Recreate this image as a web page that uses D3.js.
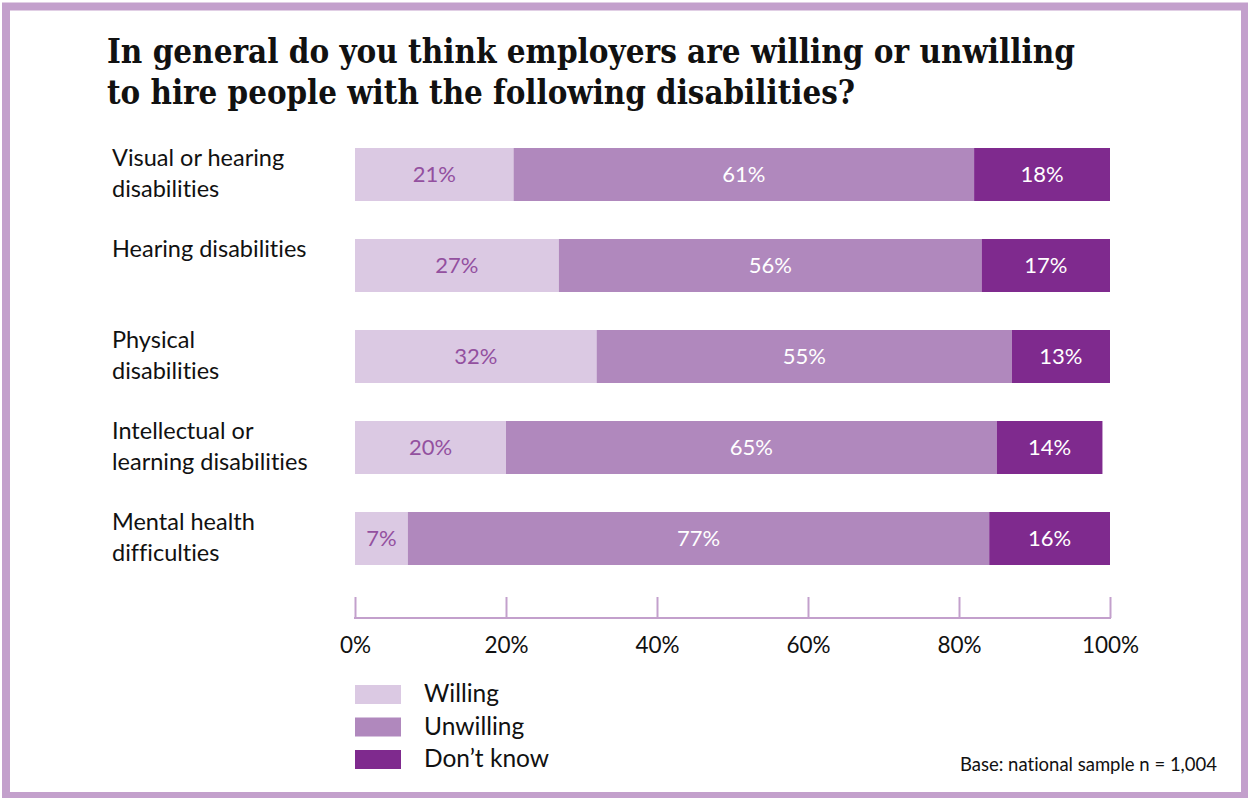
<!DOCTYPE html>
<html>
<head>
<meta charset="utf-8">
<script src="https://cdn.jsdelivr.net/npm/d3@7/dist/d3.min.js"></script>
<style>
  html, body { margin: 0; padding: 0; background: #fff; }
  svg { display: block; }
  text { font-variant-ligatures: none; font-feature-settings: "liga" 0; }
</style>
</head>
<body>
<svg id="chart" width="1248" height="798"></svg>
<script>
// Survey: employer willingness to hire, by disability type (percent of respondents)
const categories = [
  ["Visual or hearing", "disabilities"],
  ["Hearing disabilities"],
  ["Physical", "disabilities"],
  ["Intellectual or", "learning disabilities"],
  ["Mental health", "difficulties"]
];
const seriesNames = ["Willing", "Unwilling", "Don\u2019t know"];
const willing   = [21, 27, 32, 20, 7];
const unwilling = [61, 56, 55, 65, 77];
const dontKnow  = [18, 17, 13, 14, 16];
const tickValues = [0, 20, 40, 60, 80, 100];
const titleLines = [
  "In general do you think employers are willing or unwilling",
  "to hire people with the following disabilities?"
];
const footnote = "Base: national sample n = 1,004";

const colors = ["#dbc9e3", "#b088bd", "#7f2a8e"];
const labelColors = ["#93509f", "#ffffff", "#ffffff"];
const frameColor = "#c3a0cc";
const sansFont = "'Gill Sans', 'Gill Sans MT', Lato, 'Noto Sans', sans-serif";

const svg = d3.select("#chart");

// frame
svg.append("rect")
  .attr("x", 6).attr("y", 6.5)
  .attr("width", 1239).attr("height", 789.5)
  .attr("fill", "#fff")
  .attr("stroke", frameColor)
  .attr("stroke-width", 8);

// title
const title = svg.append("g")
  .attr("font-family", "'Rockwell', 'DejaVu Serif Condensed', 'DejaVu Serif', serif")
  .attr("font-weight", "bold")
  .attr("font-size", 34)
  .attr("fill", "#111");
title.append("text").attr("x", 107).attr("y", 63)
  .attr("textLength", 968).attr("lengthAdjust", "spacingAndGlyphs")
  .text(titleLines[0]);
title.append("text").attr("x", 107).attr("y", 104)
  .attr("textLength", 748).attr("lengthAdjust", "spacingAndGlyphs")
  .text(titleLines[1]);

// build rows
const rows = categories.map((c, i) => ({
  label: c,
  values: [willing[i], unwilling[i], dontKnow[i]]
}));

const x = d3.scaleLinear().domain([0, 100]).range([355, 1110]);
const y = d3.scaleBand()
  .domain(d3.range(rows.length))
  .range([148, 565])
  .paddingInner(38 / 91)
  .paddingOuter(0);

const stackData = rows.map(r => ({ w: r.values[0], u: r.values[1], d: r.values[2] }));
const stack = d3.stack().keys(["w", "u", "d"]);
const layers = stack(stackData);

const barG = svg.append("g");
layers.forEach((layer, k) => {
  const g = barG.append("g");
  g.selectAll("rect")
    .data(layer)
    .join("rect")
    .attr("x", d => x(d[0]))
    .attr("y", (d, i) => y(i))
    .attr("width", d => x(d[1]) - x(d[0]))
    .attr("height", y.bandwidth())
    .attr("fill", colors[k]);
  g.selectAll("text")
    .data(layer)
    .join("text")
    .attr("x", d => (x(d[0]) + x(d[1])) / 2)
    .attr("y", (d, i) => y(i) + y.bandwidth() / 2)
    .attr("dy", "0.36em")
    .attr("text-anchor", "middle")
    .attr("font-family", sansFont)
    .attr("font-size", 22)
    .attr("fill", labelColors[k])
    .text(d => (d[1] - d[0]) + "%");
});

// category labels
const catG = svg.append("g")
  .attr("font-family", sansFont)
  .attr("font-size", 23.5)
  .attr("fill", "#111");
rows.forEach((r, i) => {
  const t = catG.append("text").attr("x", 112).attr("y", y(i) + 18);
  r.label.forEach((line, j) => {
    t.append("tspan").attr("x", 112).attr("dy", j === 0 ? 0 : 31).text(line);
  });
});

// axis
const axis = d3.axisBottom(x)
  .tickValues(tickValues)
  .tickSize(21)
  .tickFormat(d => d + "%");
const axisG = svg.append("g")
  .attr("transform", "translate(0,618)");
axisG.call(axis);
axisG.select(".domain").remove();
axisG.append("line")
  .attr("x1", x(0) - 1).attr("x2", x(100) + 1)
  .attr("stroke", frameColor).attr("stroke-width", 2);
axisG.selectAll(".tick line")
  .attr("y1", 0).attr("y2", -21)
  .attr("stroke", frameColor).attr("stroke-width", 2);
axisG.selectAll(".tick text")
  .attr("y", 35)
  .attr("dy", 0)
  .attr("font-family", sansFont)
  .attr("font-size", 22.5)
  .attr("fill", "#111");

// legend
const legend = svg.append("g");
seriesNames.forEach((name, k) => {
  const gy = 685 + k * 32.5;
  legend.append("rect")
    .attr("x", 355).attr("y", gy)
    .attr("width", 46).attr("height", 19)
    .attr("fill", colors[k]);
  legend.append("text")
    .attr("x", 424).attr("y", gy + 17)
    .attr("font-family", sansFont)
    .attr("font-size", 24.5)
    .attr("fill", "#111")
    .text(name);
});

// base note
svg.append("text")
  .attr("x", 1217).attr("y", 771)
  .attr("text-anchor", "end")
  .attr("font-family", sansFont)
  .attr("font-size", 18.5)
  .attr("fill", "#111")
  .text(footnote);
</script>
</body>
</html>
